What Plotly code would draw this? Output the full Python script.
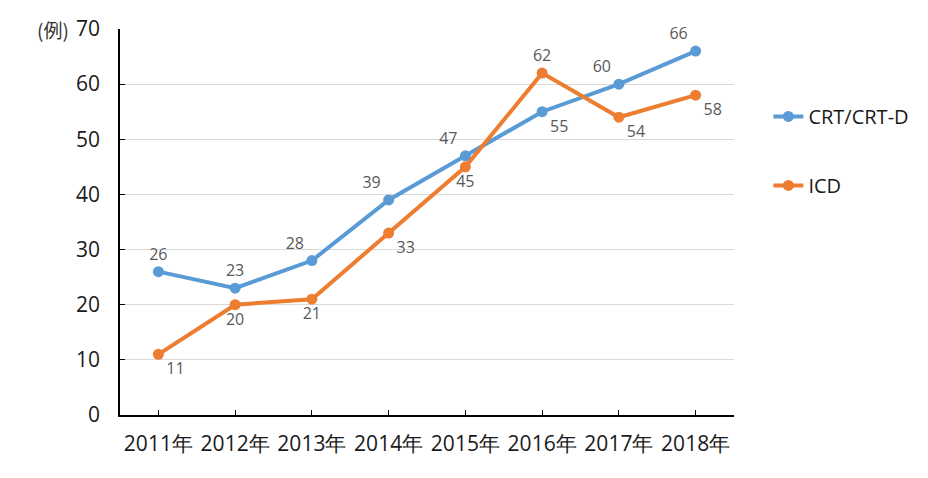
import plotly.graph_objects as go

years = ["2011年", "2012年", "2013年", "2014年", "2015年", "2016年", "2017年", "2018年"]
crt = [26, 23, 28, 39, 47, 55, 60, 66]
icd = [11, 20, 21, 33, 45, 62, 54, 58]
crt_pos = ["top center", "top center", "top left", "top left", "top left", "bottom right", "top left", "top left"]
icd_pos = ["bottom right", "bottom center", "bottom center", "bottom right", "bottom center", "top center", "bottom right", "bottom right"]
y_ticks = [0, 10, 20, 30, 40, 50, 60, 70]

FONT = "Open Sans"
fig = go.Figure()
fig.add_trace(go.Scatter(
    x=years, y=crt, name="CRT/CRT-D", mode="lines+markers+text",
    line=dict(color="#5B9BD5", width=4), marker=dict(size=11, color="#5B9BD5"),
    text=[str(v) for v in crt], textposition=crt_pos, cliponaxis=False,
    textfont=dict(color="#595959", size=16, family=FONT), legendgroup="a"))
fig.add_trace(go.Scatter(
    x=years, y=icd, name="ICD", mode="lines+markers+text",
    line=dict(color="#ED7D31", width=4), marker=dict(size=11, color="#ED7D31"),
    text=[str(v) for v in icd], textposition=icd_pos, cliponaxis=False,
    textfont=dict(color="#595959", size=16, family=FONT), legendgroup="b"))

fig.update_layout(
    width=928, height=478,
    margin=dict(l=112, r=202, t=21, b=71, autoexpand=False),
    paper_bgcolor="white", plot_bgcolor="white",
    font=dict(family=FONT, size=21, color="#1a1a1a"),
    showlegend=True,
    legend=dict(x=1.056, y=0.684, xanchor="left", yanchor="middle",
                tracegroupgap=40, font=dict(size=20, family=FONT, color="#1a1a1a")),
    xaxis=dict(type="category", range=[-0.5, 7.5], showline=True, linecolor="#000",
               linewidth=1.5, ticks="inside", ticklen=5, tickcolor="#000", automargin=False,
               showgrid=False, ticklabelstandoff=9, tickfont=dict(size=21)),
    yaxis=dict(range=[0, 70], tickvals=y_ticks, showline=True, linecolor="#000",
               linewidth=1.5, ticks="inside", ticklen=5, tickcolor="#000", automargin=False,
               showgrid=True, gridcolor="#d9d9d9", gridwidth=1, zeroline=False,
               ticklabelstandoff=14, tickfont=dict(size=21), ticklabeloverflow="allow"),
)
fig.add_annotation(text="(例)", xref="paper", yref="y", x=0, y=70,
                   xanchor="right", yanchor="middle", xshift=-49, showarrow=False,
                   font=dict(size=19, color="#333", family="Noto Sans CJK JP"))
fig.write_html("out.html")
